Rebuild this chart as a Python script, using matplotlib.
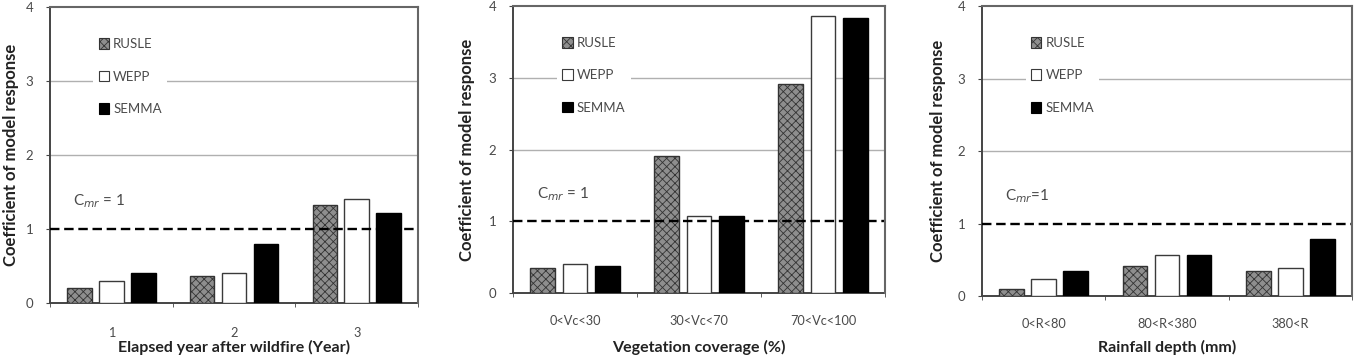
import matplotlib.pyplot as plt
import numpy as np
from matplotlib.patches import Patch

plt.rcParams["font.family"] = ["Lato", "DejaVu Sans"]
plt.rcParams["hatch.linewidth"] = 0.6

MODELS = ["RUSLE", "WEPP", "SEMMA"]

year_labels = ["1", "2", "3"]
year_rusle = [0.20, 0.36, 1.32]
year_wepp = [0.30, 0.40, 1.40]
year_semma = [0.41, 0.80, 1.21]

veg_labels = ["0<Vc<30", "30<Vc<70", "70<Vc<100"]
veg_rusle = [0.35, 1.91, 2.91]
veg_wepp = [0.40, 1.07, 3.86]
veg_semma = [0.38, 1.07, 3.84]

rain_labels = ["0<R<80", "80<R<380", "380<R"]
rain_rusle = [0.10, 0.42, 0.34]
rain_wepp = [0.23, 0.56, 0.39]
rain_semma = [0.35, 0.56, 0.78]

PANELS = [
    (year_labels, [year_rusle, year_wepp, year_semma], "Elapsed year after wildfire (Year)", "C$_{mr}$ = 1"),
    (veg_labels, [veg_rusle, veg_wepp, veg_semma], "Vegetation coverage (%)", "C$_{mr}$ = 1"),
    (rain_labels, [rain_rusle, rain_wepp, rain_semma], "Rainfall depth (mm)", "C$_{mr}$=1"),
]

# axes rectangles in figure fraction
RECTS = [
    [0.0368, 0.149, 0.2708, 0.8315],
    [0.3775, 0.177, 0.2737, 0.806],
    [0.7226, 0.1685, 0.2723, 0.8146],
]
YLABEL_X = [0.002, 0.338, 0.684]
TICK_PAD = [17, 16, 16]

STYLES = [
    dict(facecolor="#8e8e8e", edgecolor="#333333", hatch="xxxx"),
    dict(facecolor="white", edgecolor="#3a3a3a"),
    dict(facecolor="black", edgecolor="black"),
]
TEXT = "#4a4a4a"


def main() -> None:
    fig = plt.figure(figsize=(13.59, 3.56), dpi=100)
    for (labels, series, xlabel, note), rect, ylx, tpad in zip(PANELS, RECTS, YLABEL_X, TICK_PAD):
        ax = fig.add_axes(rect)
        x = np.arange(1, len(labels) + 1)
        for k, (vals, st) in enumerate(zip(series, STYLES)):
            ax.bar(x + (k - 1) * 0.26, vals, width=0.2, linewidth=1.0, zorder=3, **st)

        ax.set_xlim(0.5, 3.5)
        ax.set_ylim(0, 4)
        for yv in (2, 3):
            ax.axhline(yv, color="#b0b0b0", lw=1.0, zorder=1)
        ax.axhline(1, color="black", lw=1.7, ls=(0, (4, 2)), zorder=4)

        ax.set_yticks([0, 1, 2, 3, 4])
        ax.set_xticks(x)
        ax.set_xticklabels(labels)
        ax.set_xticks([0.5, 1.5, 2.5, 3.5], minor=True)
        ax.tick_params(axis="x", which="major", length=0, pad=tpad, labelsize=9.2, labelcolor=TEXT)
        ax.tick_params(axis="x", which="minor", length=3, direction="out", color="#444444")
        ax.tick_params(axis="y", length=3, direction="out", color="#444444", pad=9,
                       labelsize=9.5, labelcolor=TEXT)

        for side in ("top", "right"):
            ax.spines[side].set_visible(True)
            ax.spines[side].set_color("#666666")
            ax.spines[side].set_linewidth(1.5)
            ax.spines[side].set_zorder(5)
        for side in ("left", "bottom"):
            ax.spines[side].set_color("#444444")
            ax.spines[side].set_linewidth(1.4)

        ax.text(0.69, 1.32, note, fontsize=11, color=TEXT, zorder=5)

        handles = [Patch(linewidth=0.8, **st) for st in STYLES]
        leg = ax.legend(handles, MODELS, loc="upper left", bbox_to_anchor=(0.1, 0.935),
                        frameon=True, handlelength=0.8, handleheight=0.9, handletextpad=0.3,
                        labelspacing=1.55, fontsize=9.5, borderpad=0.4)
        leg.get_frame().set_edgecolor("none")
        leg.get_frame().set_facecolor("white")
        leg.get_frame().set_alpha(1)
        leg.set_zorder(6)
        for t in leg.get_texts():
            t.set_color(TEXT)

        fig.text(rect[0] + rect[2] / 2, 0.004, xlabel, ha="center", va="bottom",
                 fontsize=11.5, fontweight="bold", color="#222222")
        fig.text(ylx, rect[1] + rect[3] / 2, "Coefficient of model response", rotation=90,
                 ha="left", va="center", fontsize=12, fontweight="bold", color="#222222")

    fig.savefig("out.png", dpi=100)


if __name__ == "__main__":
    main()
